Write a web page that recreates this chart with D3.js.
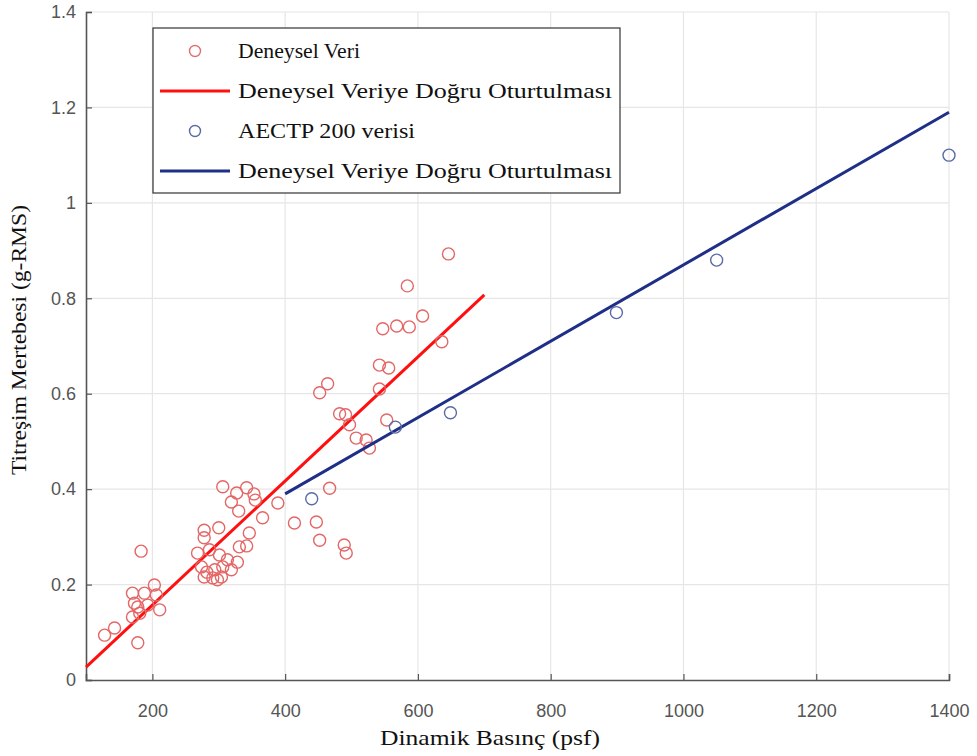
<!doctype html>
<html>
<head>
<meta charset="utf-8">
<script src="https://d3js.org/d3.v7.min.js"></script>
<style>
  body { margin: 0; background: #fff; }
  .tick text { font-family: "Liberation Sans", Arial, sans-serif; font-size: 18px; fill: #555; }
  .lbl { font-family: "Liberation Serif", "Times New Roman", serif; font-size: 21px; fill: #111; }
</style>
</head>
<body>
<script>
// red experimental data (psf, g-RMS)
var deneyX = [128, 143, 170, 178, 170, 181, 173, 193, 178, 211, 188, 203, 206, 183,
  306, 327, 342, 319, 355, 330, 389, 366, 414, 278, 300, 278, 346, 342, 331,
  268, 286, 301, 313, 328, 274, 282, 294, 306, 291, 304, 319, 278, 298, 353,
  452, 464, 447, 452, 467, 489, 492, 482, 491, 497, 507, 522, 527, 542, 542,
  556, 553, 547, 568, 587, 607, 584, 646, 636];
var deneyY = [0.094, 0.109, 0.132, 0.078, 0.182, 0.140, 0.161, 0.157, 0.153, 0.147, 0.182, 0.199, 0.178, 0.270,
  0.405, 0.392, 0.403, 0.373, 0.377, 0.354, 0.371, 0.340, 0.329, 0.314, 0.319, 0.298, 0.308, 0.281, 0.279,
  0.266, 0.273, 0.262, 0.252, 0.247, 0.237, 0.226, 0.231, 0.237, 0.214, 0.216, 0.231, 0.216, 0.210, 0.390,
  0.602, 0.621, 0.331, 0.293, 0.402, 0.283, 0.266, 0.558, 0.556, 0.535, 0.507, 0.503, 0.486, 0.610, 0.660,
  0.654, 0.545, 0.736, 0.742, 0.740, 0.763, 0.826, 0.893, 0.709];
// AECTP 200 data
var aectpX = [440, 566, 649, 899, 1050, 1400];
var aectpY = [0.38, 0.53, 0.56, 0.77, 0.88, 1.10];
// fitted lines (endpoints)
var fitRedX = [100, 700], fitRedY = [0.027, 0.807];
var fitBlueX = [400, 1400], fitBlueY = [0.39, 1.19];

var xTicks = [100, 200, 400, 600, 800, 1000, 1200, 1400];
var yTicks = [0, 0.2, 0.4, 0.6, 0.8, 1, 1.2, 1.4];
var legendLabels = ["Deneysel Veri", "Deneysel Veriye Doğru Oturtulması", "AECTP 200 verisi", "Deneysel Veriye Doğru Oturtulması"];
var legendWidths = [122, 374, 177, 374];

var W = 977, H = 756;
var m = {left: 86, right: 28, top: 12, bottom: 76};

var svg = d3.select("body").append("svg").attr("width", W).attr("height", H);

var x = d3.scaleLinear().domain([100, 1400]).range([m.left, W - m.right]);
var y = d3.scaleLinear().domain([0, 1.4]).range([H - m.bottom, m.top]);

// grid
var grid = svg.append("g");
grid.selectAll("line.gx").data(xTicks.slice(1)).enter().append("line")
  .attr("x1", d => x(d)).attr("x2", d => x(d))
  .attr("y1", y(0)).attr("y2", y(1.4))
  .attr("stroke", "#e6e6e6").attr("stroke-width", 1.2);
grid.selectAll("line.gy").data(yTicks.slice(1)).enter().append("line")
  .attr("x1", x(100)).attr("x2", x(1400))
  .attr("y1", d => y(d)).attr("y2", d => y(d))
  .attr("stroke", "#e6e6e6").attr("stroke-width", 1.2);

// axes
var xAxis = svg.append("g").attr("transform", "translate(0," + y(0) + ")")
  .call(d3.axisBottom(x).tickValues(xTicks.slice(1)).tickSize(-6).tickPadding(24).tickFormat(d3.format("d")));
var yAxis = svg.append("g").attr("transform", "translate(" + x(100) + ",0)")
  .call(d3.axisLeft(y).tickValues(yTicks).tickSize(-6).tickPadding(10).tickFormat(d => d3.format("~g")(d)));
[xAxis, yAxis].forEach(function(a) {
  a.select(".domain").attr("stroke", "#555").attr("stroke-width", 1.6);
  a.selectAll(".tick line").attr("stroke", "#555").attr("stroke-width", 1.2);
});

// red fit line
var line = d3.line().x(d => x(d[0])).y(d => y(d[1]));
svg.append("path").attr("d", line(d3.zip(fitRedX, fitRedY)))
  .attr("stroke", "#ff1010").attr("stroke-width", 3).attr("fill", "none");

// red points
svg.append("g").selectAll("circle").data(d3.zip(deneyX, deneyY)).enter().append("circle")
  .attr("cx", d => x(d[0])).attr("cy", d => y(d[1])).attr("r", 6)
  .attr("fill", "none").attr("stroke", "#e46666").attr("stroke-width", 1.4);

// blue fit line
svg.append("path").attr("d", line(d3.zip(fitBlueX, fitBlueY)))
  .attr("stroke", "#1f2f88").attr("stroke-width", 3).attr("fill", "none");

// blue points
svg.append("g").selectAll("circle").data(d3.zip(aectpX, aectpY)).enter().append("circle")
  .attr("cx", d => x(d[0])).attr("cy", d => y(d[1])).attr("r", 6)
  .attr("fill", "none").attr("stroke", "#5a6aa5").attr("stroke-width", 1.4);

// axis labels
svg.append("text").attr("class", "lbl").attr("x", 490).attr("y", 745)
  .attr("text-anchor", "middle").attr("textLength", 220).attr("lengthAdjust", "spacingAndGlyphs")
  .text("Dinamik Basınç (psf)");
svg.append("text").attr("class", "lbl")
  .attr("transform", "translate(26," + 340 + ") rotate(-90)")
  .attr("text-anchor", "middle").attr("textLength", 270).attr("lengthAdjust", "spacingAndGlyphs")
  .text("Titreşim Mertebesi (g-RMS)");

// legend
var lg = svg.append("g");
lg.append("rect").attr("x", 153).attr("y", 28).attr("width", 467).attr("height", 165)
  .attr("fill", "#fff").attr("stroke", "#333").attr("stroke-width", 1.2);
var rows = [51, 91, 131, 171];
var kinds = ["dot", "line", "dot", "line"];
var cols = ["#e07070", "#ff1010", "#5a6aa5", "#1f2f88"];
rows.forEach(function(ry, i) {
  if (kinds[i] === "dot") {
    lg.append("circle").attr("cx", 195).attr("cy", ry).attr("r", 5.5)
      .attr("fill", "none").attr("stroke", cols[i]).attr("stroke-width", 1.4);
  } else {
    lg.append("line").attr("x1", 160).attr("x2", 230).attr("y1", ry).attr("y2", ry)
      .attr("stroke", cols[i]).attr("stroke-width", 3);
  }
  lg.append("text").attr("class", "lbl").attr("x", 238).attr("y", ry + 7)
    .attr("textLength", legendWidths[i]).attr("lengthAdjust", "spacingAndGlyphs")
    .text(legendLabels[i]);
});
</script>
</body>
</html>
